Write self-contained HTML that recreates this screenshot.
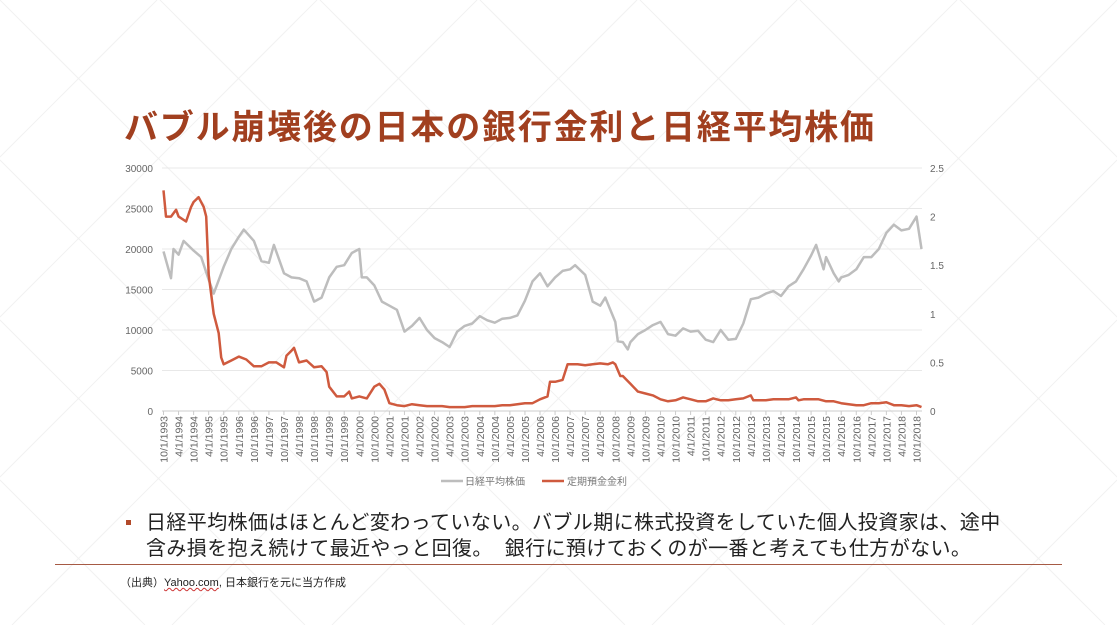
<!DOCTYPE html>
<html><head><meta charset="utf-8"><style>
body{margin:0;width:1117px;height:625px;background:#fff;overflow:hidden;position:relative;font-family:"Liberation Sans","Noto Sans CJK JP",sans-serif}
#title{position:absolute;left:124px;top:100px;font-size:34px;font-weight:bold;color:#a13f1f;letter-spacing:1.8px;white-space:nowrap}
#bullet{position:absolute;left:126px;top:510px;font-size:20px;color:#222;line-height:26px;letter-spacing:0.4px}
#bullet .sq{position:absolute;left:0;top:10px;width:5px;height:5px;background:#b24a2a}
#bullet .t{margin-left:20px;white-space:nowrap}
#rule{position:absolute;left:55px;top:564px;width:1007px;height:1px;background:#a65a44}
#src{position:absolute;left:120px;top:574px;font-size:11px;color:#222}
</style></head><body>
<svg width="1117" height="625" style="position:absolute;left:0;top:0">
<g stroke="#f1f1f1" stroke-width="1" fill="none">
<path d="M0 0 L625 625 M160 0 L785 625 M320 0 L945 625 M480 0 L1105 625 M640 0 L1117 477 M800 0 L1117 317 M960 0 L1117 157 M0 160 L465 625 M0 320 L305 625 M0 480 L145 625"/>
<path d="M1117 0 L492 625 M957 0 L332 625 M797 0 L172 625 M637 0 L12 625 M477 0 L0 477 M317 0 L0 317 M157 0 L0 157 M1117 160 L652 625 M1117 320 L812 625 M1117 480 L972 625"/>
</g></svg>
<div id="title">バブル崩壊後の日本の銀行金利と日経平均株価</div>
<svg id="chart" width="1117" height="625" style="position:absolute;left:0;top:0"></svg>
<div id="bullet"><span class="sq"></span><div class="t">日経平均株価はほとんど変わっていない。バブル期に株式投資をしていた個人投資家は、途中</div><div class="t">含み損を抱え続けて最近やっと回復。&nbsp; 銀行に預けておくのが一番と考えても仕方がない。</div></div>
<div id="rule"></div>
<div id="src">（出典）<span style="text-decoration:underline wavy #c33;text-decoration-thickness:1px">Yahoo.com</span>, 日本銀行を元に当方作成</div>
<script>
const leftTicks=[0,5000,10000,15000,20000,25000,30000];
const rightTicks=["0","0.5","1","1.5","2","2.5"];
const nikkeiDates=["1993-10","1994-01","1994-02","1994-04","1994-06","1994-10","1995-01","1995-04","1995-06","1995-10","1996-01","1996-04","1996-06","1996-10","1997-01","1997-04","1997-06","1997-10","1998-01","1998-04","1998-07","1998-10","1999-01","1999-04","1999-07","1999-10","2000-01","2000-04","2000-05","2000-07","2000-10","2001-01","2001-04","2001-07","2001-10","2002-01","2002-04","2002-07","2002-10","2003-01","2003-04","2003-07","2003-10","2004-01","2004-04","2004-07","2004-10","2005-01","2005-04","2005-07","2005-10","2006-01","2006-04","2006-07","2006-10","2007-01","2007-04","2007-06","2007-10","2008-01","2008-04","2008-06","2008-10","2008-11","2009-01","2009-03","2009-04","2009-07","2009-10","2010-01","2010-04","2010-07","2010-10","2011-01","2011-04","2011-07","2011-10","2012-01","2012-04","2012-07","2012-10","2013-01","2013-04","2013-07","2013-10","2014-01","2014-04","2014-07","2014-10","2015-01","2015-04","2015-06","2015-09","2015-10","2016-01","2016-03","2016-04","2016-07","2016-10","2017-01","2017-04","2017-07","2017-10","2018-01","2018-04","2018-07","2018-10","2018-11","2018-12"];
const nikkeiValues=[19700,16400,20000,19300,21000,19800,19000,16200,14500,17800,20000,21500,22400,21000,18500,18300,20500,17000,16500,16400,16000,13500,14000,16500,17800,18000,19500,20000,16500,16500,15500,13500,13000,12500,9800,10500,11500,10000,9000,8500,7900,9800,10500,10800,11700,11200,10900,11400,11500,11800,13600,16000,17000,15400,16500,17300,17500,18000,16800,13500,13000,14000,11000,8600,8500,7600,8500,9500,10000,10600,11000,9500,9300,10200,9800,9900,8800,8500,10000,8800,8900,10800,13800,14000,14500,14800,14200,15400,16000,17500,19200,20500,17500,19000,17000,16000,16500,16800,17500,19000,19000,20000,22000,23000,22300,22500,24000,22000,20000];
const rateDates=["1993-10","1993-11","1994-01","1994-03","1994-04","1994-07","1994-09","1994-10","1994-12","1995-02","1995-03","1995-04","1995-06","1995-08","1995-09","1995-10","1996-01","1996-04","1996-07","1996-10","1997-01","1997-04","1997-07","1997-10","1997-11","1998-01","1998-02","1998-04","1998-07","1998-10","1999-01","1999-03","1999-04","1999-07","1999-10","1999-12","2000-01","2000-04","2000-07","2000-10","2000-12","2001-02","2001-04","2001-07","2001-10","2002-01","2002-04","2002-07","2002-10","2003-01","2003-04","2003-07","2003-10","2004-01","2004-04","2004-07","2004-10","2005-01","2005-04","2005-07","2005-10","2006-01","2006-04","2006-07","2006-08","2006-10","2007-01","2007-03","2007-04","2007-07","2007-10","2008-01","2008-04","2008-07","2008-09","2008-10","2008-12","2009-01","2009-04","2009-07","2009-10","2010-01","2010-04","2010-07","2010-10","2011-01","2011-04","2011-07","2011-10","2012-01","2012-04","2012-07","2012-10","2013-01","2013-04","2013-05","2013-10","2014-01","2014-04","2014-07","2014-10","2014-11","2015-01","2015-04","2015-07","2015-10","2016-01","2016-04","2016-07","2016-10","2017-01","2017-04","2017-07","2017-10","2018-01","2018-04","2018-07","2018-10","2018-12"];
const rateValues=[2.27,2.0,2.0,2.07,2.0,1.95,2.1,2.15,2.2,2.1,2.0,1.4,1.0,0.8,0.55,0.48,0.52,0.56,0.53,0.46,0.46,0.5,0.5,0.45,0.57,0.62,0.65,0.5,0.52,0.45,0.46,0.4,0.25,0.15,0.15,0.2,0.13,0.15,0.13,0.25,0.28,0.22,0.08,0.06,0.05,0.07,0.06,0.05,0.05,0.05,0.04,0.04,0.04,0.05,0.05,0.05,0.05,0.06,0.06,0.07,0.08,0.08,0.12,0.15,0.3,0.3,0.32,0.48,0.48,0.48,0.47,0.48,0.49,0.48,0.5,0.48,0.36,0.36,0.28,0.2,0.18,0.16,0.12,0.1,0.11,0.14,0.12,0.1,0.1,0.13,0.11,0.11,0.12,0.13,0.16,0.11,0.11,0.12,0.12,0.12,0.14,0.11,0.12,0.12,0.12,0.1,0.1,0.08,0.07,0.06,0.06,0.08,0.08,0.09,0.06,0.06,0.05,0.06,0.04];
const NS='http://www.w3.org/2000/svg';
const svg=document.getElementById('chart');
const X0=163.5,XS=753/300,Y0=411,H=243;
function mi(d){const [y,m]=d.split('-').map(Number);return (y-1993)*12+(m-10);}
function xs(d){return X0+mi(d)*XS;}
function yl(v){return Y0-v/30000*H;}
function yr(v){return Y0-v/2.5*H;}
function mk(tag,attrs){const e=document.createElementNS(NS,tag);for(const k in attrs)e.setAttribute(k,attrs[k]);svg.appendChild(e);return e;}
leftTicks.forEach(t=>{
  const g=mk('line',{x1:162,x2:922,y1:yl(t),y2:yl(t),stroke:t===0?'#ccc':'#e8e8e8','stroke-width':1});
  
  
  const tx=mk('text',{x:153,y:yl(t)+4,'text-anchor':'end','font-size':10,fill:'#666'});
  tx.textContent=t;
  
  
});
rightTicks.forEach(t=>{
  const tx=mk('text',{x:930,y:yr(parseFloat(t))+4,'font-size':10,fill:'#666'});
  tx.textContent=t;
  
  
});
for(let i=0;i<=50;i++){
  const yr_=1993+Math.floor((9+i*6)/12);const mo=((9+i*6)%12)+1;
  const lab=mo+'/1/'+yr_;
  const x=X0+i*6*XS;
  const tk=mk('line',{x1:x,x2:x,y1:411,y2:415,stroke:'#ccc'});
  
  
  const tx=mk('text',{x:0,y:0,'text-anchor':'end','font-size':10.5,fill:'#666',transform:`translate(${x+4},416) rotate(-90)`});
  tx.textContent=lab;
  
  
}
const p1=mk('path',{d:nikkeiDates.map((d,i)=>(i?'L':'M')+xs(d).toFixed(1)+' '+yl(nikkeiValues[i]).toFixed(1)).join(''),fill:'none',stroke:'#bdbdbd','stroke-width':2.5,'stroke-linejoin':'round'});


const p2=mk('path',{d:rateDates.map((d,i)=>(i?'L':'M')+xs(d).toFixed(1)+' '+yr(rateValues[i]).toFixed(1)).join(''),fill:'none',stroke:'#cf5a3e','stroke-width':2.5,'stroke-linejoin':'round'});


const l1=mk('line',{x1:441,x2:463,y1:481,y2:481,stroke:'#bdbdbd','stroke-width':2.5});


const t1=mk('text',{x:465,y:485,'font-size':10,fill:'#777'});t1.textContent='日経平均株価';


const l2=mk('line',{x1:542,x2:564,y1:481,y2:481,stroke:'#cf5a3e','stroke-width':2.5});


const t2=mk('text',{x:567,y:485,'font-size':10,fill:'#777'});t2.textContent='定期預金金利';


</script>
</body></html>
